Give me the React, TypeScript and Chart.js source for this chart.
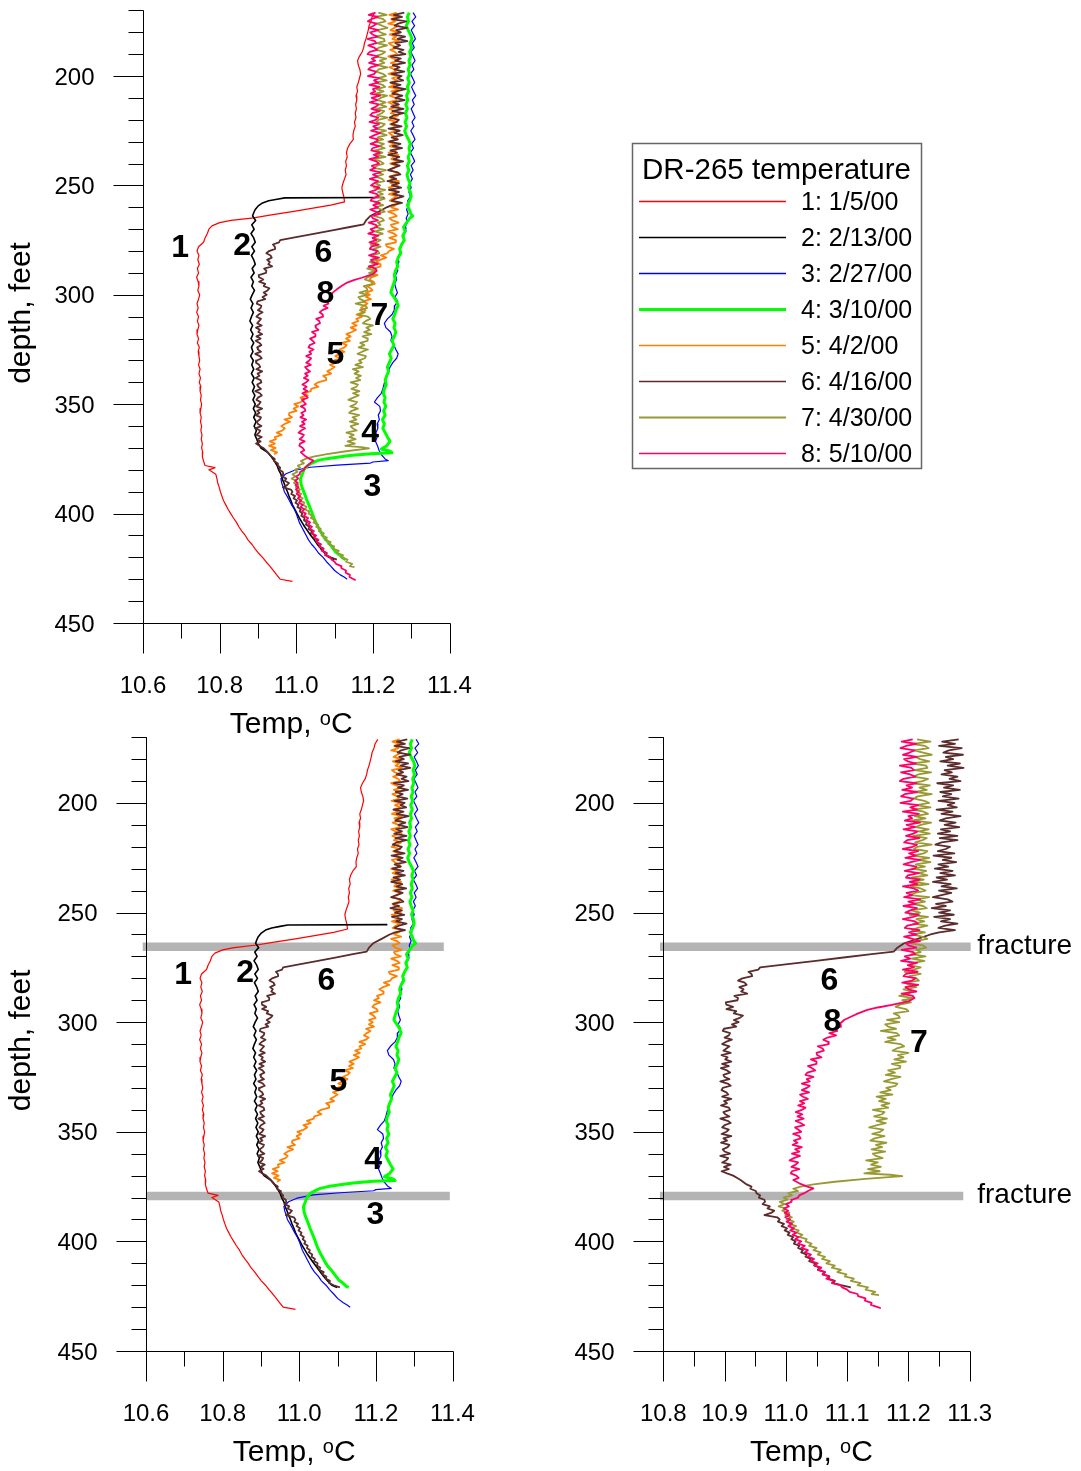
import React, { useEffect, useRef } from "react";
import { Chart, registerables } from "chart.js";

Chart.register(...registerables);

const FONT = '"Liberation Sans", Arial, Helvetica, sans-serif';

// ---------------- DATA: [depth (ft), temperature (°C)] ----------------
const series1: number[][] = [
  [171,11.205],[173,11.198],[175,11.195],[177,11.19],[179,11.188],[181,11.185],[183,11.182],[185,11.178],[187,11.176],[189,11.172],
  [191,11.165],[193,11.16],[195,11.162],[197,11.166],[199,11.168],[201,11.165],[203,11.162],[205,11.158],[207,11.16],[209,11.156],
  [211,11.158],[213,11.155],[215,11.157],[217,11.154],[219,11.156],[221,11.152],[223,11.154],[225,11.15],[227,11.148],[229,11.149],
  [231,11.14],[233,11.134],[235,11.131],[237,11.133],[239,11.129],[241,11.131],[243,11.128],[245,11.13],[247,11.126],[249,11.122],
  [251,11.119],[253,11.121],[255,11.124],[257.5,11.126],[259,11.09],[260.5,11.04],[262,10.99],[263.5,10.935],[264.8,10.889],[266,10.83],
  [267,10.8],[268.5,10.78],[270,10.772],[272,10.768],[274,10.762],[276,10.758],[278,10.745],[280,10.741],[282,10.746],[284,10.743],
  [286,10.747],[288,10.742],[290,10.745],[292,10.74],[294,10.744],[296,10.746],[298,10.743],[300,10.748],[302,10.745],[304,10.741],
  [306,10.744],[308,10.74],[310,10.745],[312,10.742],[314,10.746],[316,10.743],[318,10.741],[320,10.745],[322,10.742],[324,10.747],
  [326,10.744],[328,10.746],[330,10.748],[332,10.745],[334,10.749],[336,10.746],[338,10.75],[340,10.747],[342,10.751],[344,10.749],
  [346,10.752],[348,10.75],[350,10.753],[352,10.751],[354,10.749],[356,10.752],[358,10.75],[360,10.753],[362,10.751],[364,10.754],
  [366,10.752],[368,10.755],[370,10.753],[372,10.756],[374,10.755],[376,10.758],[378,10.762],[379,10.788],[380,10.772],[382,10.79],
  [384,10.793],[386,10.795],[388,10.799],[390,10.802],[392,10.806],[394,10.81],[396,10.816],[398,10.822],[400,10.829],[402,10.836],
  [404,10.844],[406,10.85],[408,10.858],[410,10.867],[412,10.874],[414,10.884],[416,10.892],[418,10.901],[420,10.912],[422,10.921],
  [424,10.931],[426,10.94],[428,10.949],[430,10.958],[431,10.99]
];

const series2: number[][] = [
  [255.5,11.23],[255.7,10.97],[256.3,10.95],[257,10.928],[258,10.912],[259.5,10.9],[261,10.893],[262.5,10.889],[264,10.886],[266,10.894],
  [268,10.884],[270,10.89],[272,10.882],[274,10.889],[276,10.893],[278,10.884],[280,10.891],[282,10.883],[284,10.889],[286,10.893],
  [288,10.885],[290,10.89],[292,10.882],[294,10.888],[296,10.884],[298,10.891],[300,10.885],[302,10.88],[304,10.887],[306,10.882],
  [308,10.888],[310,10.883],[312,10.879],[314,10.886],[316,10.881],[318,10.887],[320,10.882],[322,10.889],[324,10.883],[326,10.887],
  [328,10.881],[330,10.888],[332,10.884],[334,10.889],[336,10.883],[338,10.89],[340,10.885],[342,10.891],[344,10.886],[346,10.892],
  [348,10.887],[350,10.893],[352,10.888],[354,10.894],[356,10.889],[358,10.895],[360,10.89],[362,10.896],[364,10.892],[366,10.897],
  [368,10.901],[370,10.908],[372,10.925],[374,10.935],[376,10.943],[378,10.95],[380,10.954],[382,10.96],[384,10.963],[386,10.968],
  [388,10.972],[390,10.977],[392,10.981],[394,10.986],[396,10.99],[398,10.996],[400,11.002],[402,11.008],[404,11.015],[406,11.022],
  [408,11.03],[410,11.038],[412,11.047],[414,11.055],[416,11.064],[418,11.074],[420,11.085],[421,11.099]
];

const series3: number[][] = [
  [171,11.305],[173,11.312],[175,11.302],[177,11.309],[179,11.3],[181,11.306],[183,11.311],[185,11.303],[187,11.308],[189,11.299],
  [191,11.305],[193,11.31],[195,11.302],[197,11.307],[199,11.298],[201,11.304],[203,11.309],[205,11.301],[207,11.306],[209,11.312],
  [211,11.303],[213,11.308],[215,11.3],[217,11.305],[219,11.31],[221,11.302],[223,11.307],[225,11.299],[227,11.305],[229,11.31],
  [231,11.301],[233,11.306],[235,11.298],[237,11.304],[239,11.309],[241,11.3],[243,11.305],[245,11.298],[247,11.303],[249,11.296],
  [251,11.3],[253,11.294],[255,11.298],[257,11.291],[259,11.294],[261,11.288],[263,11.292],[265,11.287],[267,11.29],[269,11.284],
  [271,11.286],[273,11.28],[275,11.282],[277,11.276],[279,11.272],[281,11.27],[283,11.265],[285,11.268],[287,11.262],[289,11.265],
  [291,11.259],[293,11.262],[295,11.257],[297,11.26],[299,11.264],[301,11.258],[303,11.265],[305,11.257],[307,11.256],[309,11.25],
  [311,11.238],[313,11.23],[315,11.234],[317,11.246],[319,11.25],[321,11.247],[323,11.255],[325,11.26],[327,11.266],[329,11.262],
  [331,11.252],[333,11.245],[335,11.24],[337,11.237],[339,11.232],[341,11.229],[343,11.226],[345,11.222],[347,11.212],[349,11.204],
  [351,11.218],[353,11.22],[355,11.214],[357,11.217],[359,11.211],[361,11.213],[363,11.208],[365,11.211],[367,11.207],[369,11.212],
  [371,11.216],[373,11.222],[375,11.232],[375.8,11.24],[376.4,11.2],[376.9,11.194],[377.8,11.107],[378.8,11.037],[380.3,10.994],[381.9,10.972],
  [384,10.96],[386,10.962],[388,10.966],[390,10.969],[392,10.976],[394,10.982],[396,10.988],[398,10.995],[400,11.0],[402,11.004],
  [404,11.008],[406,11.014],[408,11.02],[410,11.026],[412,11.032],[414,11.04],[416,11.05],[418,11.058],[420,11.07],[422,11.079],
  [424,11.09],[426,11.1],[428,11.115],[429,11.125],[430,11.133]
];

const series4: number[][] = [
  [171,11.295],[173,11.29],[175,11.293],[177,11.287],[179,11.292],[181,11.298],[183,11.302],[185,11.297],[187,11.301],[189,11.296],
  [191,11.299],[193,11.294],[195,11.297],[197,11.292],[199,11.296],[201,11.291],[203,11.295],[205,11.29],[207,11.293],[209,11.288],
  [211,11.291],[213,11.286],[215,11.29],[217,11.285],[219,11.289],[221,11.284],[223,11.288],[225,11.283],[227,11.287],[229,11.293],
  [231,11.298],[233,11.294],[235,11.297],[237,11.292],[239,11.295],[241,11.29],[243,11.294],[245,11.289],[247,11.292],[249,11.297],
  [251,11.293],[253,11.298],[255,11.3],[257,11.296],[259,11.29],[261,11.295],[263,11.299],[264,11.304],[265,11.296],[267,11.288],
  [269,11.28],[271,11.284],[273,11.278],[275,11.282],[277,11.275],[279,11.27],[281,11.273],[283,11.266],[285,11.262],[287,11.265],
  [289,11.259],[291,11.256],[293,11.258],[295,11.254],[297,11.25],[299,11.247],[301,11.255],[303,11.262],[305,11.266],[307,11.26],
  [309,11.257],[311,11.252],[313,11.258],[315,11.255],[317,11.26],[319,11.256],[321,11.25],[323,11.255],[325,11.249],[327,11.243],
  [329,11.248],[331,11.243],[333,11.238],[335,11.241],[337,11.236],[339,11.232],[341,11.235],[343,11.23],[345,11.227],[347,11.232],
  [349,11.229],[351,11.234],[353,11.228],[355,11.232],[357,11.225],[359,11.23],[361,11.226],[363,11.232],[365,11.238],[367,11.245],
  [369,11.236],[370.5,11.222],[371.5,11.245],[372.2,11.25],[372.6,11.194],[373.4,11.14],[374.2,11.107],[375,11.075],[375.8,11.055],[377,11.04],
  [378.1,11.029],[380,11.02],[381.9,11.016],[384.1,11.011],[386,11.012],[388,11.015],[390.2,11.02],[392,11.024],[394,11.028],[396,11.033],
  [397.8,11.037],[400,11.042],[402,11.046],[404,11.051],[405.4,11.055],[407,11.06],[409,11.066],[411.5,11.075],[413,11.083],[415,11.092],
  [417.6,11.103],[419,11.114],[420.6,11.124],[421,11.129]
];

const series5: number[][] = [
  [171,11.262],[172,11.243],[173,11.264],[174,11.248],[175,11.259],[176,11.24],[177,11.267],[178,11.256],[179,11.246],[180,11.266],
  [181,11.244],[182,11.261],[183,11.251],[184,11.268],[185,11.242],[186,11.249],[187,11.265],[188,11.245],[189,11.258],[190,11.263],
  [191,11.24],[192,11.253],[193,11.267],[194,11.247],[195,11.264],[196,11.243],[197,11.256],[198,11.26],[199,11.241],[200,11.266],
  [201,11.25],[202,11.263],[203,11.246],[204,11.257],[205,11.242],[206,11.268],[207,11.248],[208,11.265],[209,11.244],[210,11.259],
  [211,11.262],[212,11.24],[213,11.252],[214,11.267],[215,11.243],[216,11.258],[217,11.247],[218,11.266],[219,11.255],[220,11.241],
  [221,11.264],[222,11.245],[223,11.26],[224,11.251],[225,11.268],[226,11.242],[227,11.249],[228,11.261],[229,11.265],[230,11.24],
  [231,11.257],[232,11.244],[233,11.263],[234,11.259],[235,11.241],[236,11.266],[237,11.253],[238,11.248],[239,11.267],[240,11.245],
  [241,11.262],[242,11.256],[243,11.24],[244,11.264],[245,11.26],[246,11.243],[247,11.25],[248,11.268],[249,11.246],[250,11.265],
  [251,11.241],[252,11.257],[253,11.261],[254,11.242],[255,11.263],[256,11.252],[257,11.244],[258,11.267],[259,11.259],[260,11.248],
  [261,11.266],[262,11.24],[263,11.255],[264,11.262],[265,11.243],[266,11.251],[267,11.267],[268,11.247],[269,11.251],[270,11.265],
  [271,11.24],[272,11.255],[273,11.262],[274,11.243],[275,11.259],[276,11.26],[277,11.234],[278,11.237],[279,11.255],[280,11.242],
  [281,11.238],[282,11.221],[283,11.235],[284,11.219],[285,11.209],[286,11.219],[287,11.22],[288,11.203],[289,11.208],[290,11.195],
  [291,11.212],[292,11.196],[293,11.191],[294,11.202],[295,11.205],[296,11.184],[297,11.194],[298,11.199],[299,11.182],[300,11.192],
  [301,11.182],[302,11.195],[303,11.174],[304,11.186],[305,11.176],[306,11.169],[307,11.181],[308,11.174],[309,11.157],[310,11.172],
  [311,11.157],[312,11.162],[313,11.146],[314,11.158],[315,11.142],[316,11.156],[317,11.145],[318,11.131],[319,11.142],[320,11.13],
  [321,11.14],[322,11.119],[323,11.132],[324,11.126],[325,11.113],[326,11.126],[327,11.113],[328,11.102],[329,11.117],[330,11.099],
  [331,11.105],[332,11.088],[333,11.1],[334,11.091],[335,11.081],[336,11.091],[337,11.07],[338,11.078],[339,11.078],[340,11.057],
  [341,11.048],[342,11.058],[343,11.039],[344,11.038],[345,11.02],[346,11.03],[347,11.011],[348,11.021],[349,11.012],[350,10.995],
  [351,11.005],[352,10.993],[353,11.001],[354,10.982],[355,10.981],[356,10.989],[357,10.969],[358,10.984],[359,10.97],[360,10.961],
  [361,10.97],[362,10.964],[363,10.949],[364,10.962],[365,10.944],[366,10.947],[367,10.931],[368,10.944],[369,10.929],[370,10.946],
  [371,10.934],[372,10.95],[372.8,10.942]
];

const series6: number[][] = [
  [171,11.282],[172,11.255],[173,11.276],[174,11.25],[175,11.287],[176,11.266],[177,11.257],[178,11.289],[179,11.261],[180,11.273],
  [181,11.252],[182,11.284],[183,11.264],[184,11.29],[185,11.259],[186,11.271],[187,11.254],[188,11.28],[189,11.267],[190,11.285],
  [191,11.247],[192,11.273],[193,11.258],[194,11.284],[195,11.252],[196,11.27],[197,11.256],[198,11.282],[199,11.249],[200,11.275],
  [201,11.264],[202,11.279],[203,11.246],[204,11.272],[205,11.254],[206,11.285],[207,11.261],[208,11.251],[209,11.277],[210,11.259],
  [211,11.283],[212,11.253],[213,11.268],[214,11.248],[215,11.28],[216,11.251],[217,11.28],[218,11.254],[219,11.244],[220,11.268],
  [221,11.261],[222,11.248],[223,11.275],[224,11.241],[225,11.27],[226,11.256],[227,11.278],[228,11.249],[229,11.265],[230,11.243],
  [231,11.272],[232,11.252],[233,11.276],[234,11.246],[235,11.263],[236,11.24],[237,11.269],[238,11.254],[239,11.279],[240,11.25],
  [241,11.27],[242,11.254],[243,11.24],[244,11.264],[245,11.272],[246,11.245],[247,11.261],[248,11.238],[249,11.268],[250,11.25],
  [251,11.274],[252,11.242],[253,11.268],[254,11.253],[255,11.28],[256,11.26],[257,11.249],[258,11.276],[259,11.25],[260,11.236],
  [262,11.215],[264,11.193],[266,11.182],[267.8,11.176],[269,11.14],[270.5,11.094],[272,11.049],[273.5,11.003],[275,10.958],[276,10.955],
  [277,10.939],[278,10.944],[279,10.945],[280,10.929],[281,10.922],[282,10.933],[283,10.936],[284,10.924],[285,10.931],[286,10.927],
  [287,10.937],[288,10.916],[289,10.922],[290,10.921],[291,10.902],[292,10.903],[293,10.914],[294,10.903],[295,10.919],[296,10.915],
  [297,10.93],[298,10.925],[299,10.915],[300,10.923],[301,10.912],[302,10.919],[303,10.899],[304,10.897],[305,10.909],[306,10.907],
  [307,10.9],[308,10.912],[309,10.902],[310,10.896],[311,10.908],[312,10.903],[313,10.898],[314,10.91],[315,10.895],[316,10.905],
  [317,10.901],[318,10.911],[319,10.896],[320,10.907],[321,10.894],[322,10.904],[323,10.909],[324,10.898],[325,10.9],[326,10.908],
  [327,10.893],[328,10.905],[329,10.91],[330,10.897],[331,10.895],[332,10.903],[333,10.906],[334,10.896],[335,10.911],[336,10.899],
  [337,10.904],[338,10.894],[339,10.907],[340,10.909],[341,10.898],[342,10.901],[343,10.908],[344,10.893],[345,10.905],[346,10.91],
  [347,10.9],[348,10.896],[349,10.907],[350,10.903],[351,10.895],[352,10.911],[353,10.898],[354,10.904],[355,10.894],[356,10.908],
  [357,10.905],[358,10.897],[359,10.9],[360,10.909],[361,10.893],[362,10.906],[363,10.903],[364,10.896],[365,10.91],[366,10.899],
  [367,10.907],[368,10.895],[369,10.904],[370,10.914],[371,10.92],[372,10.926],[373,10.931],[374,10.936],[375,10.944],[376,10.942],
  [377,10.951],[378,10.952],[379,10.958],[380,10.956],[381,10.965],[382,10.966],[383,10.962],[384,10.974],[385,10.97],[386,10.981],
  [387,10.976],[388,10.965],[389,10.986],[390,10.99],[391,10.987],[392,10.997],[393,10.993],[394,11.002],[395,10.998],[396,11.006],
  [397,11.003],[398,11.012],[399,11.009],[400,11.016],[401,11.013],[402,11.022],[403,11.02],[404,11.028],[405,11.025],[406,11.034],
  [407,11.032],[408,11.041],[409,11.038],[410,11.048],[411,11.046],[412,11.055],[413,11.052],[414,11.064],[415,11.06],[416,11.071],
  [417,11.069],[418,11.08],[419,11.078],[420,11.09],[421,11.106]
];

const series7: number[][] = [
  [171,11.214],[172,11.236],[173,11.206],[174,11.227],[175,11.233],[176,11.209],[177,11.224],[178,11.238],[179,11.212],[180,11.219],
  [181,11.234],[182,11.207],[183,11.229],[184,11.231],[185,11.21],[186,11.237],[187,11.216],[188,11.208],[189,11.232],[190,11.223],
  [191,11.206],[192,11.235],[193,11.218],[194,11.23],[195,11.211],[196,11.238],[197,11.215],[198,11.209],[199,11.226],[200,11.234],
  [201,11.213],[202,11.236],[203,11.207],[204,11.225],[205,11.232],[206,11.21],[207,11.228],[208,11.206],[209,11.237],[210,11.22],
  [211,11.212],[212,11.233],[213,11.217],[214,11.235],[215,11.208],[216,11.23],[217,11.223],[218,11.211],[219,11.238],[220,11.214],
  [221,11.209],[222,11.231],[223,11.225],[224,11.207],[225,11.234],[226,11.216],[227,11.236],[228,11.212],[229,11.227],[230,11.206],
  [231,11.229],[232,11.217],[233,11.231],[234,11.206],[235,11.225],[236,11.209],[237,11.233],[238,11.204],[239,11.22],[240,11.228],
  [241,11.211],[242,11.203],[243,11.234],[244,11.214],[245,11.227],[246,11.207],[247,11.224],[248,11.23],[249,11.205],[250,11.219],
  [251,11.202],[252,11.232],[253,11.213],[254,11.226],[255,11.208],[256,11.231],[257,11.215],[258,11.206],[259,11.227],[260,11.206],
  [261,11.222],[262,11.231],[263,11.21],[264,11.204],[265,11.224],[266,11.229],[267,11.213],[268,11.22],[269,11.205],[270,11.228],
  [271,11.205],[272,11.226],[273,11.209],[274,11.201],[275,11.22],[276,11.209],[277,11.194],[278,11.22],[279,11.202],[280,11.213],
  [281,11.217],[282,11.194],[283,11.202],[284,11.213],[285,11.192],[286,11.205],[287,11.201],[288,11.185],[289,11.209],[290,11.19],
  [291,11.204],[292,11.186],[293,11.179],[294,11.196],[295,11.2],[296,11.176],[297,11.184],[298,11.186],[299,11.165],[300,11.185],
  [301,11.162],[302,11.167],[303,11.18],[304,11.155],[305,11.181],[306,11.185],[307,11.166],[308,11.179],[309,11.162],[310,11.187],
  [311,11.193],[312,11.181],[313,11.174],[314,11.2],[315,11.183],[316,11.192],[317,11.177],[318,11.196],[319,11.173],[320,11.187],
  [321,11.186],[322,11.167],[323,11.178],[324,11.163],[325,11.187],[326,11.172],[327,11.16],[328,11.182],[329,11.179],[330,11.164],
  [331,11.171],[332,11.154],[333,11.174],[334,11.148],[335,11.163],[336,11.152],[337,11.169],[338,11.156],[339,11.167],[340,11.142],
  [341,11.161],[342,11.157],[343,11.144],[344,11.165],[345,11.148],[346,11.163],[347,11.149],[348,11.136],[349,11.159],[350,11.154],
  [351,11.141],[352,11.161],[353,11.145],[354,11.138],[355,11.164],[356,11.147],[357,11.157],[358,11.14],[359,11.162],[360,11.142],
  [361,11.147],[362,11.158],[363,11.131],[364,11.15],[365,11.139],[366,11.155],[367,11.134],[368,11.153],[369,11.128],[369.6,11.17],
  [370.2,11.19],[371.5,11.13],[372.8,11.08],[374,11.045],[375,11.024],[376,11.012],[377,11.02],[378,11.004],[379,11.01],[380,10.996],
  [381,11.003],[382,10.99],[383,10.998],[384,10.988],[385,11.0],[386,10.994],[387,11.006],[388,10.999],[389,11.01],[390,11.001],
  [391,11.013],[392,11.006],[393,11.017],[394,11.009],[395,11.021],[396,11.018],[397,11.027],[398,11.022],[399,11.034],[400,11.032],
  [401,11.042],[402,11.038],[403,11.05],[404,11.045],[405,11.057],[406,11.052],[407,11.064],[408,11.059],[409,11.072],[410,11.066],
  [411,11.08],[412,11.075],[413,11.09],[414,11.084],[415,11.099],[416,11.096],[417,11.111],[418,11.106],[419,11.122],[420,11.117],
  [421,11.134],[422,11.13],[423,11.146],[424,11.14],[424.5,11.152]
];

const series8: number[][] = [
  [171,11.207],[172,11.189],[173,11.213],[174,11.196],[175,11.187],[176,11.21],[177,11.202],[178,11.191],[179,11.214],[180,11.193],
  [181,11.199],[182,11.212],[183,11.186],[184,11.205],[185,11.209],[186,11.188],[187,11.203],[188,11.211],[189,11.192],[190,11.186],
  [191,11.213],[192,11.197],[193,11.206],[194,11.19],[195,11.214],[196,11.194],[197,11.188],[198,11.208],[199,11.204],[200,11.187],
  [201,11.216],[202,11.203],[203,11.214],[204,11.191],[205,11.217],[206,11.2],[207,11.206],[208,11.194],[209,11.219],[210,11.197],
  [211,11.211],[212,11.192],[213,11.215],[214,11.208],[215,11.196],[216,11.218],[217,11.198],[218,11.193],[219,11.214],[220,11.207],
  [221,11.191],[222,11.216],[223,11.201],[224,11.212],[225,11.195],[226,11.219],[227,11.204],[228,11.192],[229,11.213],[230,11.21],
  [231,11.194],[232,11.217],[233,11.199],[234,11.196],[235,11.218],[236,11.202],[237,11.215],[238,11.191],[239,11.209],[240,11.216],
  [241,11.197],[242,11.206],[243,11.193],[244,11.219],[245,11.2],[246,11.212],[247,11.192],[248,11.214],[249,11.203],[250,11.195],
  [251,11.217],[252,11.208],[253,11.191],[254,11.211],[255,11.215],[256,11.198],[257,11.194],[258,11.218],[259,11.201],[260,11.213],
  [261,11.193],[262,11.207],[263,11.219],[264,11.196],[265,11.2],[266,11.213],[267,11.189],[268,11.208],[269,11.211],[270,11.194],
  [271,11.203],[272,11.188],[273,11.214],[274,11.199],[275,11.209],[276,11.191],[277,11.215],[278,11.196],[279,11.192],[280,11.212],
  [281,11.206],[282,11.19],[283,11.216],[284,11.195],[285,11.2],[286,11.213],[287,11.189],[288,11.207],[289,11.21],[290.5,11.2],
  [292.2,11.171],[293.3,11.15],[294.4,11.133],[296,11.118],[297.5,11.106],[299,11.095],[300.5,11.089],[302,11.09],[303,11.08],[304,11.084],
  [305,11.071],[306,11.082],[307,11.068],[308,11.061],[309,11.069],[310,11.07],[311,11.052],[312,11.06],[313,11.062],[314,11.05],
  [315,11.051],[316,11.058],[317,11.041],[318,11.05],[319,11.05],[320,11.036],[321,11.043],[322,11.048],[323,11.035],[324,11.032],
  [325,11.045],[326,11.034],[327,11.039],[328,11.026],[329,11.039],[330,11.034],[331,11.026],[332,11.038],[333,11.023],[334,11.028],
  [335,11.036],[336,11.023],[337,11.03],[338,11.02],[339,11.032],[340,11.026],[341,11.016],[342,11.027],[343,11.019],[344,11.029],
  [345,11.016],[346,11.024],[347,11.03],[348,11.015],[349,11.02],[350,11.025],[351,11.012],[352,11.022],[353,11.024],[354,11.013],
  [355,11.019],[356,11.011],[357,11.026],[358,11.015],[359,11.022],[360,11.01],[361,11.023],[362,11.013],[363,11.006],[364,11.02],
  [365,11.016],[366,11.009],[367,11.022],[368,11.01],[369,11.008],[370,11.017],[371,11.021],[372,11.012],[373.5,11.022],[375,11.035],
  [375.8,11.045],[377,11.036],[378,11.03],[379,11.022],[380,11.02],[381,11.01],[382,11.009],[383,11.0],[384,11.005],[385,10.997],
  [386,11.004],[387,10.998],[388,11.006],[389,10.999],[390,11.007],[391,11.001],[392,11.01],[393,11.004],[394,11.013],[395,11.007],
  [396,11.017],[397,11.011],[398,11.021],[399,11.015],[400,11.025],[401,11.02],[402,11.031],[403,11.025],[404,11.036],[405,11.031],
  [406,11.041],[407,11.036],[408,11.046],[409,11.041],[410,11.052],[411,11.047],[412,11.058],[413,11.053],[414,11.064],[415,11.06],
  [416,11.071],[417,11.066],[418,11.078],[419,11.075],[420,11.089],[421,11.092],[422,11.1],[423,11.104],[424,11.117],[425,11.118],
  [426,11.13],[427,11.129],[428,11.14],[429,11.139],[430,11.15],[430.5,11.155]
];

const allSeries = [series1, series2, series3, series4, series5, series6, series7, series8];
const seriesLabels = ["1: 1/5/00", "2: 2/13/00", "3: 2/27/00", "4: 3/10/00", "5: 4/2/00", "6: 4/16/00", "7: 4/30/00", "8: 5/10/00"];
const legendTitle = "DR-265 temperature";

const depthRange = [170, 450];
const depthMajorTicks = [200, 250, 300, 350, 400, 450];
const depthMinorTicks = [170, 180, 190, 210, 220, 230, 240, 260, 270, 280, 290, 310, 320, 330, 340, 360, 370, 380, 390, 410, 420, 430, 440];
const tempMajorWide = [10.6, 10.8, 11.0, 11.2, 11.4];
const tempMinorWide = [10.7, 10.9, 11.1, 11.3];
const tempMajorNarrow = [10.8, 10.9, 11.0, 11.1, 11.2, 11.3];
const tempMinorNarrow = [10.85, 10.95, 11.05, 11.15, 11.25];

const curveLabelText = ["1", "2", "3", "4", "5", "6", "7", "8"];
const curveLabelTemp = [10.697, 10.859, 11.199, 11.193, 11.102, 11.071, 11.217, 11.076];
const curveLabelDepth = [277.4, 276.4, 386.8, 361.9, 326.2, 279.9, 308.4, 298.6];

const fractureDepths = [265.6, 379.3];
const fractureText = "fracture";
const xTitleMain = "Temp, ";
const xTitleSup = "o";
const xTitleEnd = "C";
const yTitle = "depth, feet";

// ---------------- STYLE ----------------
const seriesColors = ["#ff0000", "#000000", "#0000ff", "#00ff00", "#ff7f00", "#5c2b2b", "#999933", "#ff0066"];
const seriesWidths = [1.2, 1.6, 1.2, 3, 1.8, 1.8, 1.8, 1.8];
const legendWidths = [1.6, 1.6, 1.6, 3, 1.6, 1.6, 1.8, 1.6];

type Panel = {
  key: string;
  left: number; top: number; width: number; height: number;
  pad: { left: number; right: number; top: number; bottom: number };
  xMin: number; xMax: number;
  major: number[]; minor: number[];
  series: number[];
  labels: number[];
  bands: number[][] | null;
  bandText: boolean;
  legend: boolean;
  yTitle: boolean;
};

const panels: Panel[] = [
  {
    key: "top", left: 0, top: 0, width: 1081, height: 745,
    pad: { left: 143, right: 631.5, top: 10.4, bottom: 122 },
    xMin: 10.6, xMax: 11.4, major: tempMajorWide, minor: tempMinorWide,
    series: [0, 1, 2, 3, 4, 5, 6, 7], labels: [0, 1, 2, 3, 4, 5, 6, 7],
    bands: null, bandText: false, legend: true, yTitle: true,
  },
  {
    key: "bl", left: 0, top: 725, width: 560, height: 746,
    pad: { left: 146, right: 107.5, top: 12.2, bottom: 120 },
    xMin: 10.6, xMax: 11.4, major: tempMajorWide, minor: tempMinorWide,
    series: [0, 1, 2, 3, 4, 5], labels: [0, 1, 2, 3, 4, 5],
    bands: [[10.5914, 11.3773], [10.6018, 11.393]], bandText: false, legend: false, yTitle: true,
  },
  {
    key: "br", left: 560, top: 725, width: 521, height: 746,
    pad: { left: 103.3, right: 111.3, top: 12.2, bottom: 120 },
    xMin: 10.8, xMax: 11.3, major: tempMajorNarrow, minor: tempMinorNarrow,
    series: [5, 6, 7], labels: [5, 7, 6],
    bands: [[10.7946, 11.3016], [10.7946, 11.2896]], bandText: true, legend: false, yTitle: false,
  },
];

function makeDecor(panel: Panel) {
  return {
    id: "decor_" + panel.key,
    afterDatasetsDraw(chart: any) {
      const ctx: CanvasRenderingContext2D = chart.ctx;
      const a = chart.chartArea;
      const xs = chart.scales.x;
      const ys = chart.scales.y;
      const px = (v: number) => xs.getPixelForValue(v);
      const py = (v: number) => ys.getPixelForValue(v);
      const r = (v: number) => Math.round(v) + 0.5;
      ctx.save();

      // axes
      const yTop = py(depthRange[0]);
      const yBot = r(py(depthRange[1]));
      const xL = r(px(panel.xMin));
      const xR = px(panel.xMax);
      ctx.strokeStyle = "#000";
      ctx.lineWidth = 1;
      ctx.beginPath();
      ctx.moveTo(xL, yTop);
      ctx.lineTo(xL, yBot);
      ctx.lineTo(r(xR), yBot);
      depthMajorTicks.forEach((d) => { ctx.moveTo(xL - 30, r(py(d))); ctx.lineTo(xL, r(py(d))); });
      depthMinorTicks.forEach((d) => { ctx.moveTo(xL - 15, r(py(d))); ctx.lineTo(xL, r(py(d))); });
      panel.major.forEach((t) => { ctx.moveTo(r(px(t)), yBot); ctx.lineTo(r(px(t)), yBot + 30); });
      panel.minor.forEach((t) => { ctx.moveTo(r(px(t)), yBot); ctx.lineTo(r(px(t)), yBot + 15); });
      ctx.stroke();

      // tick labels
      ctx.fillStyle = "#000";
      ctx.font = `24px ${FONT}`;
      ctx.textAlign = "right";
      ctx.textBaseline = "alphabetic";
      depthMajorTicks.forEach((d) => ctx.fillText(String(d), xL - 49, py(d) + 8.5));
      ctx.textAlign = "center";
      panel.major.forEach((t) => ctx.fillText(t.toFixed(1), px(t), yBot + 69));

      // x title with superscript
      const cx = (a.left + a.right) / 2 - 5;
      const by = yBot + 109;
      ctx.font = `30px ${FONT}`;
      const w1 = ctx.measureText(xTitleMain).width;
      const w3 = ctx.measureText(xTitleEnd).width;
      ctx.font = `20px ${FONT}`;
      const w2 = ctx.measureText(xTitleSup).width;
      let x0 = cx - (w1 + w2 + w3) / 2;
      ctx.textAlign = "left";
      ctx.font = `30px ${FONT}`;
      ctx.fillText(xTitleMain, x0, by);
      x0 += w1;
      ctx.font = `20px ${FONT}`;
      ctx.fillText(xTitleSup, x0, by - 8);
      x0 += w2;
      ctx.font = `30px ${FONT}`;
      ctx.fillText(xTitleEnd, x0, by);

      // y title
      if (panel.yTitle) {
        ctx.save();
        ctx.translate(30, (yTop + yBot) / 2 - 4);
        ctx.rotate(-Math.PI / 2);
        ctx.textAlign = "center";
        ctx.font = `30px ${FONT}`;
        ctx.fillText(yTitle, 0, 0);
        ctx.restore();
      }

      // curve labels
      ctx.font = `bold 32px ${FONT}`;
      ctx.textAlign = "center";
      panel.labels.forEach((i) => {
        ctx.fillText(curveLabelText[i], px(curveLabelTemp[i]), py(curveLabelDepth[i]) + 11.5);
      });

      // fracture labels
      if (panel.bandText) {
        ctx.font = `28px ${FONT}`;
        ctx.textAlign = "left";
        fractureDepths.forEach((d) => ctx.fillText(fractureText, a.right + 7.5, py(d) + 7));
      }

      // legend
      if (panel.legend) {
        ctx.strokeStyle = "#666";
        ctx.lineWidth = 1.5;
        ctx.strokeRect(632.5, 143.5, 289, 325);
        ctx.font = `29.5px ${FONT}`;
        ctx.textAlign = "center";
        ctx.fillText(legendTitle, 776.5, 178.5);
        ctx.font = `25px ${FONT}`;
        ctx.textAlign = "left";
        seriesLabels.forEach((lab, i) => {
          const yy = 201 + i * 36.05;
          ctx.strokeStyle = seriesColors[i];
          ctx.lineWidth = legendWidths[i];
          ctx.beginPath();
          ctx.moveTo(639, Math.round(yy) + 0.5);
          ctx.lineTo(786, Math.round(yy) + 0.5);
          ctx.stroke();
          ctx.fillText(lab, 801, yy + 9);
        });
      }
      ctx.restore();
    },
  };
}

function PanelChart({ panel }: { panel: Panel }) {
  const ref = useRef<HTMLCanvasElement>(null);
  useEffect(() => {
    const canvas = ref.current;
    if (!canvas) return;
    const datasets: any[] = [];
    if (panel.bands) {
      panel.bands.forEach((span, k) => {
        datasets.push({
          label: fractureText,
          data: [{ x: span[0], y: fractureDepths[k] }, { x: span[1], y: fractureDepths[k] }],
          showLine: true,
          borderColor: "#b4b4b4",
          borderWidth: 8.5,
          borderCapStyle: "butt",
          pointRadius: 0,
          clip: false,
          order: 100,
        });
      });
    }
    panel.series.forEach((i) => {
      datasets.push({
        label: seriesLabels[i],
        data: allSeries[i].map((p) => ({ x: p[1], y: p[0] })),
        showLine: true,
        borderColor: seriesColors[i],
        borderWidth: seriesWidths[i],
        borderJoinStyle: "round",
        pointRadius: 0,
        tension: 0,
        order: 8 - i,
      });
    });
    const chart = new Chart(canvas, {
      type: "scatter",
      data: { datasets },
      options: {
        animation: false,
        responsive: false,
        maintainAspectRatio: false,
        devicePixelRatio: 1,
        events: [],
        layout: { padding: panel.pad },
        scales: {
          x: { type: "linear", min: panel.xMin, max: panel.xMax, display: false },
          y: { type: "linear", min: depthRange[0], max: depthRange[1], reverse: true, display: false },
        },
        plugins: { legend: { display: false }, tooltip: { enabled: false } },
      },
      plugins: [makeDecor(panel)],
    } as any);
    return () => chart.destroy();
  }, [panel]);
  return (
    <canvas
      ref={ref}
      width={panel.width}
      height={panel.height}
      style={{ position: "absolute", left: panel.left, top: panel.top, width: panel.width, height: panel.height }}
    />
  );
}

export default function App() {
  return (
    <div style={{ position: "absolute", left: 0, top: 0, width: 1081, height: 1471, background: "#fff" }}>
      {panels.map((p) => (
        <PanelChart key={p.key} panel={p} />
      ))}
    </div>
  );
}
